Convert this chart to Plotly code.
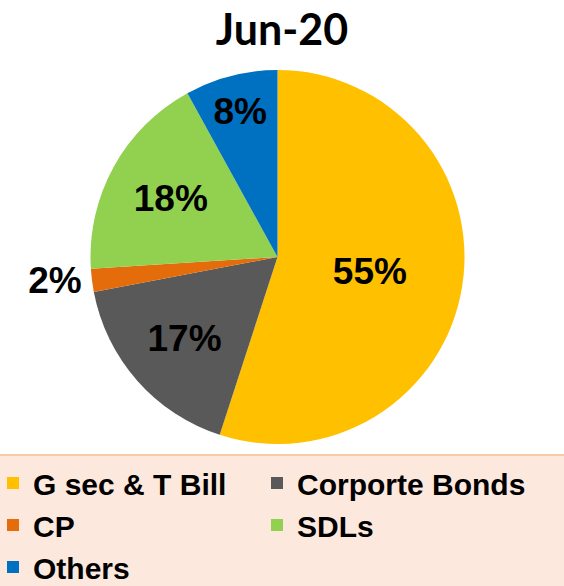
import plotly.graph_objects as go

title = "Jun-20"
labels = ["G sec & T Bill", "Corporte Bonds", "CP", "SDLs", "Others"]
values = [55, 17, 2, 18, 8]
colors = ["#FFC000", "#595959", "#E46C0A", "#92D050", "#0070C0"]
positions = ["inside", "inside", "outside", "inside", "inside"]

W, H = 564, 586

fig = go.Figure(
    go.Pie(
        labels=labels,
        values=values,
        sort=False,
        direction="clockwise",
        rotation=0,
        marker=dict(colors=colors, line=dict(width=0)),
        textinfo="percent",
        textposition=positions,
        insidetextorientation="horizontal",
        textfont=dict(family="Liberation Sans, Arial", size=37, color="black", weight="bold"),
        domain=dict(x=[90 / W, 465 / W], y=[1 - 444 / H, 1 - 70 / H]),
    )
)

fig.update_layout(
    width=W,
    height=H,
    margin=dict(l=0, r=0, t=0, b=0, autoexpand=False),
    paper_bgcolor="white",
    showlegend=True,
    title=dict(
        text="<b>" + title + "</b>",
        x=0.5,
        xanchor="center",
        y=1 - 30 / H,
        yanchor="middle",
        font=dict(family="Lato, Open Sans", size=43, color="black"),
    ),
    legend=dict(
        orientation="h",
        x=0,
        xanchor="left",
        y=1 - 457 / H,
        yanchor="top",
        indentation=-7,
        entrywidthmode="pixels",
        entrywidth=226,
        bgcolor="rgba(0,0,0,0)",
        font=dict(family="Liberation Sans, Arial", size=30, color="black", weight="bold"),
        traceorder="normal",
    ),
    shapes=[
        dict(
            type="rect", xref="paper", yref="paper",
            x0=0, x1=1, y0=0, y1=1 - 455 / H,
            fillcolor="#FCE8DC", line=dict(width=0), layer="below",
        ),
        dict(
            type="line", xref="paper", yref="paper",
            x0=0, x1=1, y0=1 - 455 / H, y1=1 - 455 / H,
            line=dict(color="#F8CBAD", width=2),
        ),
    ],
)

fig.write_html(
    "out.html",
    config={"displayModeBar": False},
    post_script="document.body.style.margin='0';document.body.style.padding='0';",
)
